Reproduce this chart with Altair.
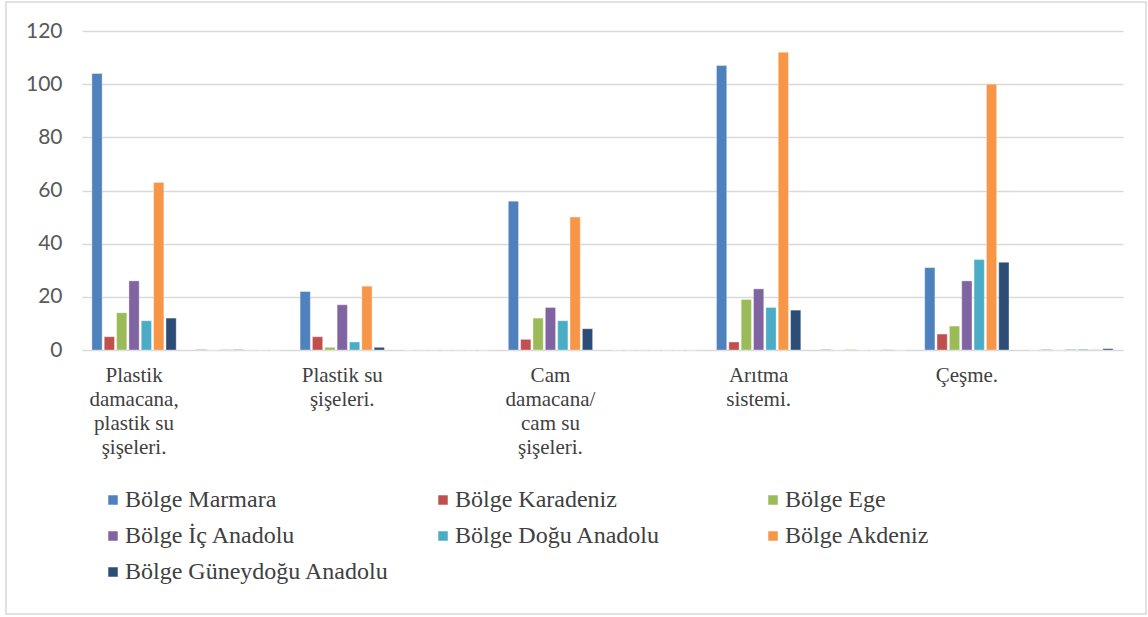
import json
import altair as alt
import pandas as pd

# ---- data ----
categories = [
    "Plastik damacana, plastik su şişeleri.", "",
    "Plastik su şişeleri.", "",
    "Cam damacana/ cam su şişeleri.", "",
    "Arıtma sistemi.", "",
    "Çeşme.", "",
]
category_lines = [
    ["Plastik", "damacana,", "plastik su", "şişeleri."], [""],
    ["Plastik su", "şişeleri."], [""],
    ["Cam", "damacana/", "cam su", "şişeleri."], [""],
    ["Arıtma", "sistemi."], [""],
    ["Çeşme."], [""],
]
series = [
    "Bölge Marmara", "Bölge Karadeniz", "Bölge Ege", "Bölge İç Anadolu",
    "Bölge Doğu Anadolu", "Bölge Akdeniz", "Bölge Güneydoğu Anadolu",
]
colors = ["#4F81BD", "#C0504D", "#9BBB59", "#8064A2", "#4BACC6", "#F79646", "#2C4D75"]

marmara      = [104, 0.2, 22, 0, 56, 0, 107, 0.2, 31, 0]
karadeniz    = [5,   0,   5,  0, 4,  0, 3,   0,   6,  0.2]
ege          = [14,  0.2, 1,  0, 12, 0, 19,  0.2, 9,  0]
ic_anadolu   = [26,  0.2, 17, 0, 16, 0, 23,  0,   26, 0.2]
dogu_anadolu = [11,  0,   3,  0, 11, 0, 16,  0,   34, 0.3]
akdeniz      = [63,  0,   24, 0, 50, 0, 112, 0.2, 100, 0.2]
guneydogu    = [12,  0,   1,  0, 8,  0, 15,  0,   33, 0.5]

values = [marmara, karadeniz, ege, ic_anadolu, dogu_anadolu, akdeniz, guneydogu]

rows = []
for s, vals in zip(series, values):
    for i, v in enumerate(vals):
        rows.append({"idx": i, "category": categories[i], "series": s, "value": v})
df = pd.DataFrame(rows)

label_expr = json.dumps(category_lines, ensure_ascii=False) + "[datum.value]"

bars = alt.Chart(df).mark_bar(stroke="white", strokeWidth=0.6, strokeOpacity=0.6).encode(
    x=alt.X(
        "idx:O",
        title=None,
        scale=alt.Scale(paddingInner=0.19, paddingOuter=0.095),
        axis=alt.Axis(
            labelExpr=label_expr,
            labelAngle=0,
            labelFont="Liberation Serif",
            labelFontSize=21,
            labelColor="#404040",
            labelLineHeight=24,
            labelBaseline="top",
            labelPadding=14,
            labelLimit=0,
            ticks=False,
            domain=False,
            grid=False,
        ),
    ),
    xOffset=alt.XOffset(
        "series:N",
        sort=series,
        scale=alt.Scale(domain=series, paddingInner=0.17, paddingOuter=0),
    ),
    y=alt.Y(
        "value:Q",
        title=None,
        scale=alt.Scale(domain=[0, 120], nice=False),
        axis=alt.Axis(
            values=[0, 20, 40, 60, 80, 100, 120],
            grid=True,
            gridColor="#d9d9d9",
            gridWidth=1.3,
            domain=False,
            ticks=False,
            labelFont="Lato",
            labelFontSize=21,
            labelColor="#595959",
            labelPadding=20,
        ),
    ),
    color=alt.Color(
        "series:N",
        sort=series,
        scale=alt.Scale(domain=series, range=colors),
        legend=alt.Legend(
            title=None,
            orient="none",
            direction="horizontal",
            values=series,
            legendX=19,
            legendY=457,
            columns=3,
            gridAlign="all",
            columnPadding=42,
            rowPadding=12,
            padding=0,
            symbolType="square",
            symbolSize=90,
            symbolStrokeWidth=0,
            labelFont="Liberation Serif",
            labelFontSize=24,
            labelColor="#404040",
            labelOffset=0,
            labelLimit=0,
        ),
    ),
)

border = alt.Chart(pd.DataFrame({"a": [0]})).mark_rect(
    fill="transparent", stroke="#d9d9d9", strokeWidth=1.5
).encode(
    x=alt.value(-76), x2=alt.value(1064), y=alt.value(-29), y2=alt.value(583)
)

chart = alt.layer(border, bars).properties(
    width=1041,
    height=319,
    padding={"left": 82, "top": 31, "right": 25, "bottom": 267},
    autosize=alt.AutoSizeParams(type="none"),
    background="white",
).configure_view(stroke=None)

chart.save("out.html", embed_options={"renderer": "svg", "actions": False})
